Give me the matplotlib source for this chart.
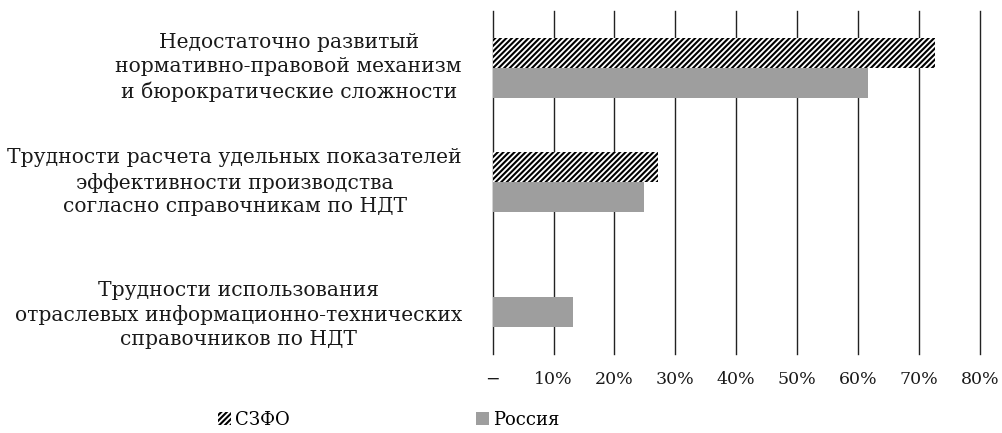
import numpy as np
import matplotlib
matplotlib.use('Agg')
import matplotlib.pyplot as plt

# data
categories = [
    "Недостаточно развитый\nнормативно-правовой механизм\nи бюрократические сложности",
    "Трудности расчета удельных показателей\nэффективности производства\nсогласно справочникам по НДТ",
    "Трудности использования\nотраслевых информационно-технических\nсправочников по НДТ",
]
szfo = [72.6, 27.1, 0.0]
russia = [61.6, 24.8, 13.2]
xticks = [0, 10, 20, 30, 40, 50, 60, 70, 80]
xtick_labels = ["−", "10%", "20%", "30%", "40%", "50%", "60%", "70%", "80%"]
series_names = ["СЗФО", "Россия"]

plt.rcParams['font.family'] = ['DejaVu Serif']
plt.rcParams['hatch.linewidth'] = 1.5

fig = plt.figure(figsize=(10.03, 4.33), dpi=100)
ax = fig.add_axes([0.4912, 0.1824, 0.977 - 0.4912, 0.9753 - 0.1824])

y = np.arange(len(categories))
h = 0.262
ax.barh(y - h/2, szfo, height=h, facecolor='white', edgecolor='black',
        hatch='//////', linewidth=0, label=series_names[0], zorder=3)
ax.barh(y + h/2, russia, height=h, color='#9e9e9e', linewidth=0,
        label=series_names[1], zorder=3)

ax.set_xlim(0, 80)
ax.set_ylim(2.5, -0.5)
ax.set_xticks(xticks)
ax.set_xticklabels(xtick_labels, fontsize=12.5, color='#1a1a1a')
ax.set_yticks([])
ax.tick_params(axis='x', length=0, pad=12)
for s in ax.spines.values():
    s.set_visible(False)
ax.xaxis.grid(True, color='#222222', lw=1.0)
for gl in ax.get_xgridlines():
    gl.set_clip_on(False)
ax.set_axisbelow(True)

# category labels (third one sits a bit lower in the original)
label_offsets = [0.0, 0.0, 0.16]
for i, txt in enumerate(categories):
    ax.text(-0.063, i + label_offsets[i], txt, transform=ax.get_yaxis_transform(),
            ha='right', va='center', multialignment='center',
            fontsize=14.6, linespacing=1.33, color='#1a1a1a')

fig.legend(loc='center', bbox_to_anchor=(389/1003, 1 - 420/433), ncol=2,
           frameon=False, fontsize=13, handlelength=0.7, handleheight=0.7,
           handletextpad=0.25, columnspacing=10.3)

fig.savefig("out.png", dpi=100)
